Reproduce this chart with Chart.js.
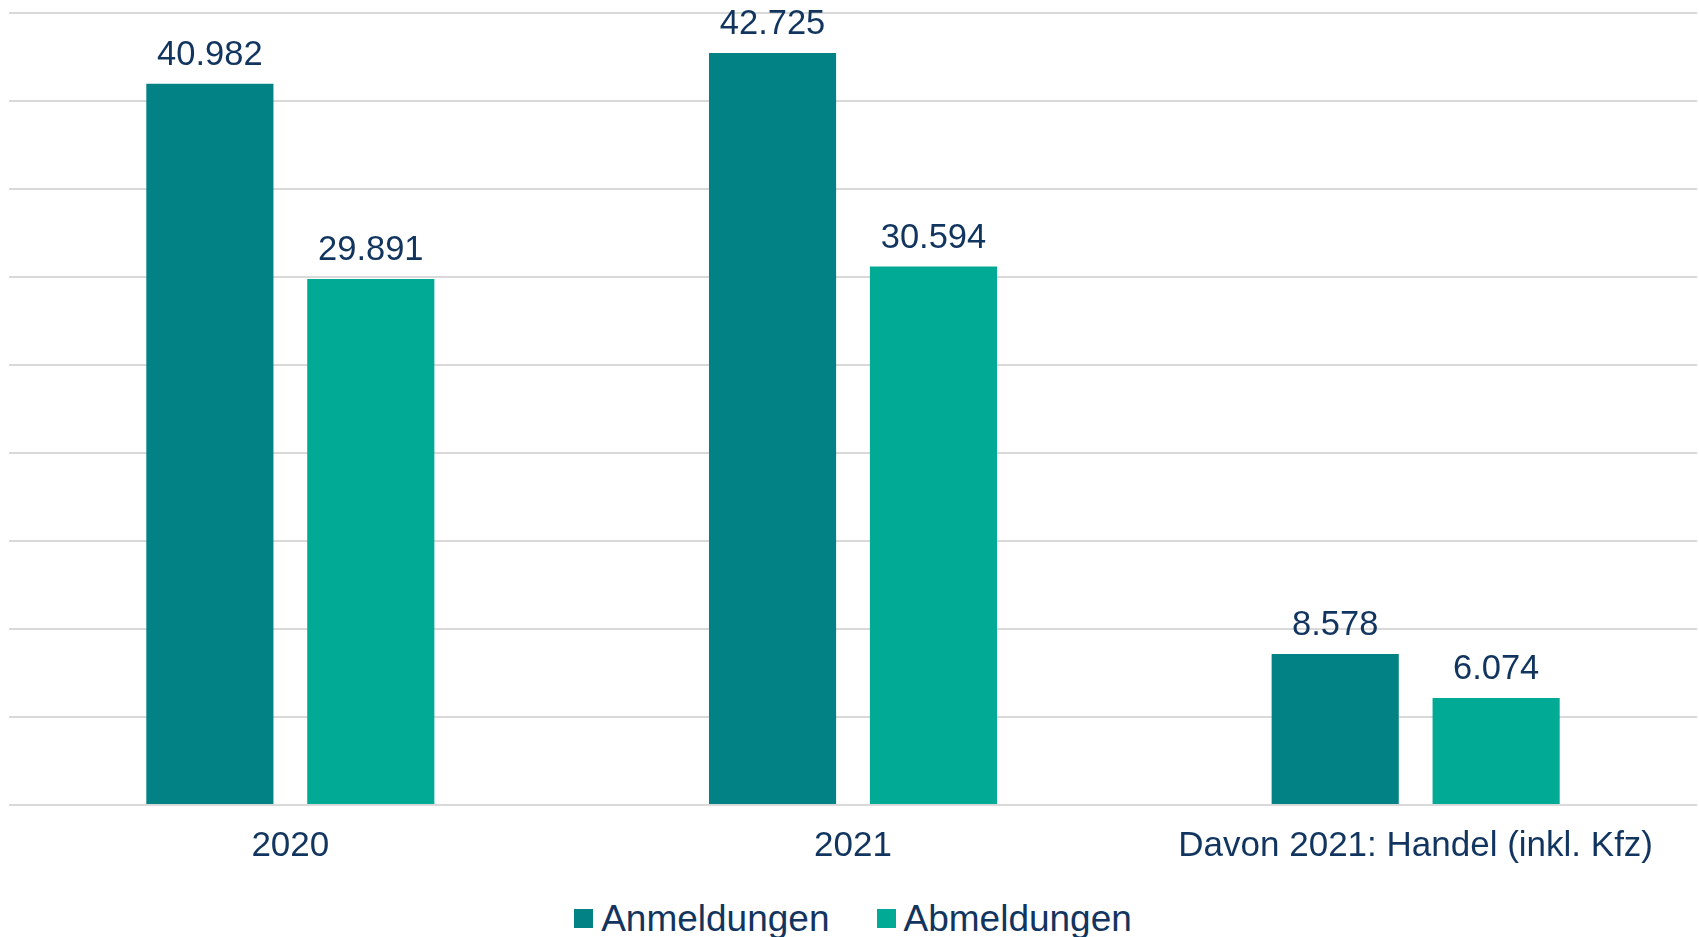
<!DOCTYPE html>
<html>
<head>
<meta charset="utf-8">
<script src="https://cdn.jsdelivr.net/npm/chart.js@4/dist/chart.umd.min.js"></script>
<style>
  html, body { margin: 0; padding: 0; background: #ffffff; }
  body { width: 1699px; height: 937px; position: relative; overflow: hidden; font-family: "Liberation Sans", Arial, sans-serif; }
  #wrap { position: absolute; left: 0; top: 0; width: 1699px; height: 893px; }
  #legend { position: absolute; left: 9px; width: 1688px; top: 900px; height: 37px; display: flex; justify-content: center; align-items: center; font-size: 37px; line-height: 37px; color: #12355f; }
  .item { display: flex; align-items: center; }
  .item + .item { margin-left: 47px; }
  .box { width: 19px; height: 19px; margin-right: 8px; }
</style>
</head>
<body>
<div id="wrap"><canvas id="c"></canvas></div>
<div id="legend"></div>
<script>
const categories = ["2020", "2021", "Davon 2021: Handel (inkl. Kfz)"];
const seriesNames = ["Anmeldungen", "Abmeldungen"];
const anmeldungen = [40982, 42725, 8578];
const abmeldungen = [29891, 30594, 6074];
const seriesColors = ["#028284", "#00AA94"];
const yMax = 45000;
const yStep = 5000;

const textColor = "#12355f";
const fontFamily = '"Liberation Sans", Arial, sans-serif';

function fmt(v) {
  return String(v).replace(/\B(?=(\d{3})+(?!\d))/g, ".");
}

const valueLabels = {
  id: "valueLabels",
  afterDatasetsDraw(chart) {
    const ctx = chart.ctx;
    ctx.save();
    ctx.font = "34.5px " + fontFamily;
    ctx.fillStyle = textColor;
    ctx.textAlign = "center";
    ctx.textBaseline = "alphabetic";
    chart.data.datasets.forEach((ds, i) => {
      const meta = chart.getDatasetMeta(i);
      meta.data.forEach((bar, j) => {
        ctx.fillText(fmt(ds.data[j]), bar.x, bar.y - 19);
      });
    });
    ctx.restore();
  }
};

new Chart(document.getElementById("c"), {
  type: "bar",
  data: {
    labels: categories,
    datasets: [
      { label: seriesNames[0], data: anmeldungen, backgroundColor: seriesColors[0] },
      { label: seriesNames[1], data: abmeldungen, backgroundColor: seriesColors[1] }
    ]
  },
  options: {
    responsive: true,
    maintainAspectRatio: false,
    animation: false,
    categoryPercentage: 0.572,
    barPercentage: 0.79,
    layout: { padding: { top: 13, left: 9, right: 2, bottom: 6 } },
    plugins: {
      legend: { display: false },
      tooltip: { enabled: false }
    },
    scales: {
      x: {
        grid: { display: false, drawTicks: false },
        border: { display: false },
        ticks: {
          color: textColor,
          font: { family: fontFamily, size: 35 },
          padding: 20,
          maxRotation: 0,
          autoSkip: false
        }
      },
      y: {
        min: 0,
        max: yMax,
        ticks: { display: false, stepSize: yStep },
        grid: { color: "#d9d9d9", lineWidth: 2, drawTicks: false },
        border: { display: false }
      }
    }
  },
  plugins: [valueLabels]
});

const legend = document.getElementById("legend");
seriesNames.forEach((name, i) => {
  const item = document.createElement("div");
  item.className = "item";
  const box = document.createElement("div");
  box.className = "box";
  box.style.background = seriesColors[i];
  const txt = document.createElement("span");
  txt.textContent = name;
  item.appendChild(box);
  item.appendChild(txt);
  legend.appendChild(item);
});
</script>
</body>
</html>
